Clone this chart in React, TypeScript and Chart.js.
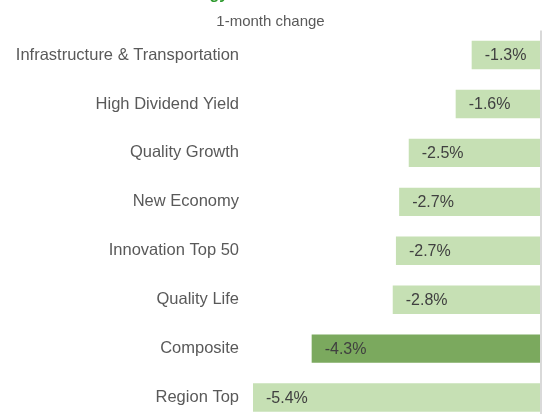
import React, { useEffect, useRef } from "react";
import { Chart, registerables } from "chart.js";

Chart.register(...registerables);

const categories = [
  "Infrastructure & Transportation",
  "High Dividend Yield",
  "Quality Growth",
  "New Economy",
  "Innovation Top 50",
  "Quality Life",
  "Composite",
  "Region Top",
];
const changes = [-1.3, -1.6, -2.48, -2.66, -2.72, -2.78, -4.3, -5.4];
const highlight = "Composite";
const titleText = "Strategy Index Performance";
const subtitleText = "1-month change";

const FONT = "'Liberation Sans', Arial, sans-serif";

const labelPlugin = {
  id: "barLabels",
  afterDatasetsDraw(chart: any) {
    const ctx = chart.ctx;
    const meta = chart.getDatasetMeta(0);
    const xs = chart.scales.x;
    const area = chart.chartArea;
    ctx.save();
    // zero line
    const x0 = xs.getPixelForValue(0);
    ctx.strokeStyle = "#d9d9d9";
    ctx.lineWidth = 2;
    ctx.beginPath();
    ctx.moveTo(x0, area.top);
    ctx.lineTo(x0, area.bottom);
    ctx.stroke();
    ctx.font = `16px ${FONT}`;
    ctx.fillStyle = "#404040";
    ctx.textAlign = "left";
    ctx.textBaseline = "middle";
    meta.data.forEach((bar: any, i: number) => {
      const left = Math.min(bar.x, bar.base);
      ctx.fillText(`${changes[i].toFixed(1)}%`, left + 13, bar.y + 1);
    });
    ctx.restore();
  },
};

export default function App() {
  const ref = useRef<HTMLCanvasElement>(null);
  useEffect(() => {
    if (!ref.current) return;
    const chart = new Chart(ref.current, {
      type: "bar",
      data: {
        labels: categories,
        datasets: [
          {
            data: changes,
            backgroundColor: categories.map((c) => (c === highlight ? "#7ba95e" : "#c6e0b4")),
            barPercentage: 0.58,
            categoryPercentage: 1,
          },
        ],
      },
      options: {
        indexAxis: "y",
        animation: false,
        responsive: false,
        maintainAspectRatio: false,
        layout: { padding: { left: 0, right: 14, top: 0, bottom: 1 } },
        plugins: {
          legend: { display: false },
          tooltip: { enabled: false },
          title: {
            display: true,
            text: titleText,
            color: "#2e9a2e",
            font: { family: FONT, size: 16, weight: "bold" },
            padding: { top: 2, bottom: 0 },
          },
          subtitle: {
            display: true,
            text: subtitleText,
            color: "#595959",
            font: { family: FONT, size: 15 },
            padding: { top: 8.4, bottom: 0 },
          },
        },
        scales: {
          x: {
            display: false,
            min: -5.4,
            max: 0,
          },
          y: {
            grid: { display: false, drawTicks: false },
            border: { display: false },
            ticks: {
              color: "#595959",
              padding: 14,
              font: { family: FONT, size: 16.5 },
            },
            afterFit: (s: any) => {
              s.width = 253;
              s.paddingTop = 0;
              s.paddingBottom = 0;
            },
          },
        },
      },
      plugins: [labelPlugin],
    });
    return () => chart.destroy();
  }, []);
  return (
    <div style={{ position: "absolute", left: 0, top: -17, width: 555, height: 440 }}>
      <canvas ref={ref} width={555} height={440} style={{ width: 555, height: 440, display: "block" }} />
    </div>
  );
}
